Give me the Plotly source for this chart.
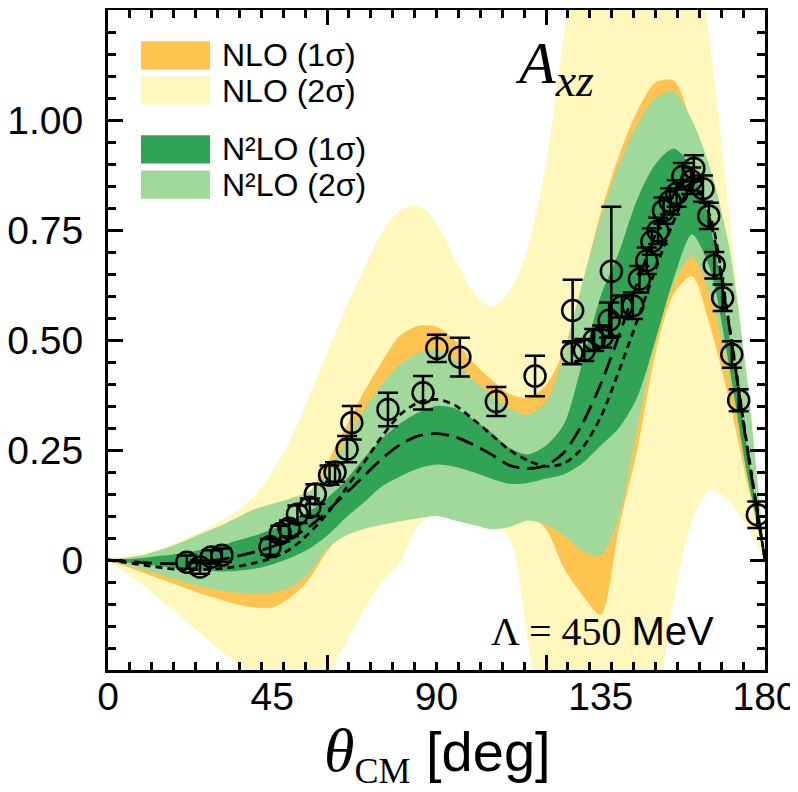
import plotly.graph_objects as go

# ---------------- data ----------------
theta = [0, 5, 10, 15, 20, 25, 30, 35, 40, 45, 50, 55, 60, 65, 70, 75, 80, 85, 90,
         95, 100, 105, 110, 115, 120, 125, 130, 135, 140, 145, 150, 155, 160, 165,
         170, 175, 180]

nlo2_hi = [0, 0.008, 0.017, 0.028, 0.045, 0.062, 0.085, 0.11, 0.145, 0.2, 0.275, 0.37,
           0.47, 0.57, 0.66, 0.745, 0.795, 0.805, 0.765, 0.685, 0.61, 0.575, 0.61, 0.71,
           0.90, 1.2, 1.5, 1.7, 1.8, 1.8, 1.75, 1.6, 1.45, 1.17, 0.80, 0.39, 0]
nlo2_lo = [0, -0.03, -0.06, -0.095, -0.13, -0.165, -0.2, -0.235, -0.27, -0.3, -0.32, -0.31,
           -0.265, -0.19, -0.115, -0.05, -0.005, 0.08, 0.105, 0.1, 0.095, 0.09, 0.05, -0.18,
           -0.45, -0.6, -0.65, -0.65, -0.6, -0.5, -0.36, -0.09, 0.09, 0.16, 0.135, 0.076, 0]

nlo1_hi = [0, 0.003, 0.006, 0.012, 0.02, 0.03, 0.04, 0.055, 0.07, 0.085, 0.105, 0.15,
           0.22, 0.3, 0.38, 0.45, 0.51, 0.532, 0.53, 0.5, 0.45, 0.41, 0.378, 0.368, 0.397,
           0.48, 0.63, 0.79, 0.92, 1.02, 1.085, 1.09, 0.99, 0.86, 0.68, 0.4, 0]
nlo1_lo = [0, -0.015, -0.03, -0.045, -0.06, -0.075, -0.088, -0.1, -0.108, -0.108, -0.085,
           -0.045, 0.02, 0.065, 0.08, 0.09, 0.098, 0.105, 0.11, 0.1, 0.09, 0.08, 0.085, 0.1,
           0.07, -0.02, -0.08, -0.125, 0.075, 0.25, 0.47, 0.605, 0.645, 0.53, 0.37, 0.18, 0]

n2lo2_hi = [0, 0.005, 0.012, 0.025, 0.04, 0.058, 0.075, 0.095, 0.115, 0.128, 0.14, 0.155,
            0.2, 0.27, 0.34, 0.4, 0.445, 0.47, 0.477, 0.455, 0.41, 0.375, 0.345, 0.33, 0.36,
            0.47, 0.63, 0.78, 0.9, 0.99, 1.05, 1.065, 1.0, 0.89, 0.72, 0.42, 0]
n2lo2_lo = [0, -0.012, -0.022, -0.035, -0.048, -0.06, -0.068, -0.074, -0.078, -0.074, -0.062,
            -0.03, 0.025, 0.055, 0.07, 0.08, 0.088, 0.095, 0.1, 0.09, 0.08, 0.07, 0.075, 0.09,
            0.08, 0.055, 0.02, 0.01, 0.1, 0.3, 0.5, 0.63, 0.69, 0.6, 0.43, 0.2, 0]

n2lo1_hi = [0, 0.002, 0.005, 0.01, 0.015, 0.022, 0.03, 0.043, 0.055, 0.07, 0.09, 0.11,
            0.14, 0.18, 0.23, 0.275, 0.31, 0.335, 0.35, 0.345, 0.32, 0.29, 0.255, 0.24, 0.26,
            0.31, 0.45, 0.6, 0.7, 0.82, 0.9, 0.935, 0.89, 0.76, 0.52, 0.26, 0]
n2lo1_lo = [0, -0.005, -0.01, -0.015, -0.02, -0.024, -0.026, -0.025, -0.02, -0.01, 0.005,
            0.025, 0.055, 0.095, 0.13, 0.167, 0.19, 0.208, 0.217, 0.212, 0.2, 0.185, 0.173,
            0.175, 0.185, 0.195, 0.22, 0.26, 0.3, 0.37, 0.5, 0.64, 0.74, 0.66, 0.45, 0.2, 0]

long_dash = [0, -0.003, -0.006, -0.008, -0.008, -0.005, 0.0, 0.008, 0.018, 0.03, 0.05, 0.075,
             0.11, 0.15, 0.19, 0.23, 0.262, 0.282, 0.287, 0.28, 0.262, 0.24, 0.215, 0.208,
             0.215, 0.245, 0.31, 0.4, 0.51, 0.63, 0.74, 0.83, 0.87, 0.77, 0.54, 0.26, 0]
short_dash = [0, -0.006, -0.012, -0.018, -0.022, -0.022, -0.02, -0.015, -0.007, 0.005, 0.025,
              0.06, 0.105, 0.16, 0.22, 0.28, 0.33, 0.358, 0.365, 0.352, 0.32, 0.285, 0.25,
              0.226, 0.213, 0.22, 0.255, 0.325, 0.43, 0.545, 0.66, 0.77, 0.85, 0.78, 0.545,
              0.265, 0]

exp_theta = [21.6, 25.2, 28.3, 31.2, 44.4, 47.2, 49.6, 51.9, 55.3, 56.8, 60.7, 62.2, 65.5,
             66.8, 76.7, 86.3, 90.1, 96.4, 106.4, 117.0, 127.3, 127.1, 130.5, 133.2, 135.4,
             137.3, 137.9, 140.8, 143.8, 145.6, 147.6, 149.0, 150.7, 152.2, 154.0, 155.8,
             157.5, 159.8, 160.5, 163.0, 164.6, 166.1, 168.4, 170.9, 172.8, 177.9]
exp_val = [-0.005, -0.016, 0.007, 0.011, 0.03, 0.06, 0.072, 0.104, 0.12, 0.15, 0.193, 0.2,
           0.252, 0.312, 0.342, 0.38, 0.481, 0.461, 0.36, 0.418, 0.567, 0.47, 0.477, 0.5,
           0.508, 0.545, 0.656, 0.576, 0.578, 0.638, 0.68, 0.724, 0.748, 0.794, 0.815, 0.833,
           0.872, 0.862, 0.89, 0.844, 0.782, 0.67, 0.596, 0.467, 0.363, 0.103]
exp_err = [0.015, 0.015, 0.015, 0.015, 0.018, 0.018, 0.018, 0.02, 0.02, 0.022, 0.022, 0.022,
           0.03, 0.038, 0.038, 0.038, 0.031, 0.044, 0.033, 0.046, 0.07, 0.025, 0.025, 0.025,
           0.025, 0.04, 0.147, 0.025, 0.03, 0.03, 0.03, 0.03, 0.03, 0.03, 0.03, 0.03, 0.03,
           0.03, 0.03, 0.03, 0.03, 0.03, 0.03, 0.03, 0.025, 0.03]

x_labels = [0, 45, 90, 135, 180]
x_major = [0, 60, 120, 180]
y_ticks = [0, 0.25, 0.5, 0.75, 1.0]
y_labels = ["0", "0.25", "0.50", "0.75", "1.00"]

legend_names = ["NLO (1σ)", "NLO (2σ)", "N²LO (1σ)", "N²LO (2σ)"]

# ---------------- styles ----------------
C_NLO1 = "#FEC44F"
C_NLO2 = "#FFF7BC"
C_N2LO1 = "#31A354"
C_N2LO2 = "#A1D99B"
SANS = "Liberation Sans, Arial, sans-serif"
SERIF = "Liberation Serif, Times New Roman, serif"

fig = go.Figure()


def band(lo, hi, color):
    fig.add_trace(go.Scatter(
        x=theta + theta[::-1], y=hi + lo[::-1], fill="toself", fillcolor=color,
        mode="lines", line=dict(width=0, shape="spline", smoothing=0.8),
        hoverinfo="skip", showlegend=False))


band(nlo2_lo, nlo2_hi, C_NLO2)
band(nlo1_lo, nlo1_hi, C_NLO1)
band(n2lo2_lo, n2lo2_hi, C_N2LO2)
band(n2lo1_lo, n2lo1_hi, C_N2LO1)

fig.add_trace(go.Scatter(x=theta, y=long_dash, mode="lines",
                         line=dict(color="black", width=2.8, dash="18px,8px",
                                   shape="spline", smoothing=0.8),
                         hoverinfo="skip", showlegend=False))
fig.add_trace(go.Scatter(x=theta, y=short_dash, mode="lines",
                         line=dict(color="black", width=2.8, dash="7px,5px",
                                   shape="spline", smoothing=0.8),
                         hoverinfo="skip", showlegend=False))

fig.add_trace(go.Scatter(
    x=exp_theta, y=exp_val, mode="markers", xaxis="x2",
    marker=dict(symbol="circle-open", size=21, color="black", line=dict(width=2.5, color="black")),
    error_y=dict(type="data", array=exp_err, visible=True, color="black", thickness=2.5, width=10),
    showlegend=False))

# page body has an 8px default margin, so the figure is 8px smaller
fig.update_layout(
    width=790, height=784,
    margin=dict(l=100, r=33, t=2, b=122, autoexpand=False),
    paper_bgcolor="white", plot_bgcolor="white",
    font=dict(family=SANS, color="black", size=39),
    xaxis=dict(range=[0, 180], showline=True, linewidth=3, linecolor="black", mirror="ticks",
               tickmode="array", tickvals=x_major, ticks="inside", ticklen=15, tickwidth=3,
               tickcolor="black", showticklabels=False, showgrid=False, zeroline=False,
               automargin=False,
               minor=dict(tick0=0, dtick=6, ticks="inside", ticklen=8, tickwidth=2.5,
                          tickcolor="black", showgrid=False)),
    xaxis2=dict(range=[0, 180], overlaying="x", side="bottom", showline=False,
                tickmode="array", tickvals=x_labels, ticks="", showgrid=False, zeroline=False,
                automargin=False,
                tickfont=dict(size=39, family=SANS), ticklabelstandoff=0),
    yaxis=dict(range=[-0.25, 1.25], showline=True, linewidth=3, linecolor="black",
               mirror="ticks", tickmode="array", tickvals=y_ticks, ticktext=y_labels,
               ticks="inside", ticklen=15, tickwidth=3, tickcolor="black",
               tickfont=dict(size=39, family=SANS), showgrid=False, zeroline=False,
               ticklabelstandoff=14, automargin=False,
               minor=dict(tick0=0, dtick=0.05, ticks="inside", ticklen=8, tickwidth=2.5,
                          tickcolor="black", showgrid=False)),
)

# legend (drawn manually)
leg_colors = [C_NLO1, C_NLO2, C_N2LO1, C_N2LO2]
leg_rows = [(0.9098, 0.9526), (0.8563, 0.8991), (0.7676, 0.8104), (0.7141, 0.7569)]
for (y0, y1), col, name in zip(leg_rows, leg_colors, legend_names):
    fig.add_shape(type="rect", xref="paper", yref="paper", x0=0.0502, x1=0.1553,
                  y0=y0, y1=y1, fillcolor=col, line=dict(width=0))
    fig.add_annotation(xref="paper", yref="paper", x=0.1705, y=(y0 + y1) / 2,
                       xanchor="left", yanchor="middle", text=name, showarrow=False,
                       font=dict(family=SANS, size=32, color="black"))

fig.add_annotation(xref="paper", yref="paper", x=0.617, y=0.912, xanchor="left",
                   yanchor="middle", showarrow=False,
                   text="<i>A</i><sub><i><span style='font-size:46px'>xz</span></i></sub>",
                   font=dict(family=SERIF, size=60, color="black"))

fig.add_annotation(xref="paper", yref="paper", x=0.58, y=0.058, xanchor="left",
                   yanchor="middle", showarrow=False,
                   text="Λ = 450 <span style='font-family:Liberation Sans'>MeV</span>",
                   font=dict(family=SERIF, size=40, color="black"))

fig.add_annotation(xref="paper", yref="paper", x=0.502, y=-0.126, xanchor="center",
                   yanchor="middle", showarrow=False,
                   text="<span style='font-family:Liberation Serif;font-size:62px'><i>θ</i></span>"
                        "<sub><span style='font-family:Liberation Serif;font-size:36px'>CM</span></sub>"
                        " [deg]",
                   font=dict(family=SANS, size=56, color="black"))

fig.write_html("out.html")
